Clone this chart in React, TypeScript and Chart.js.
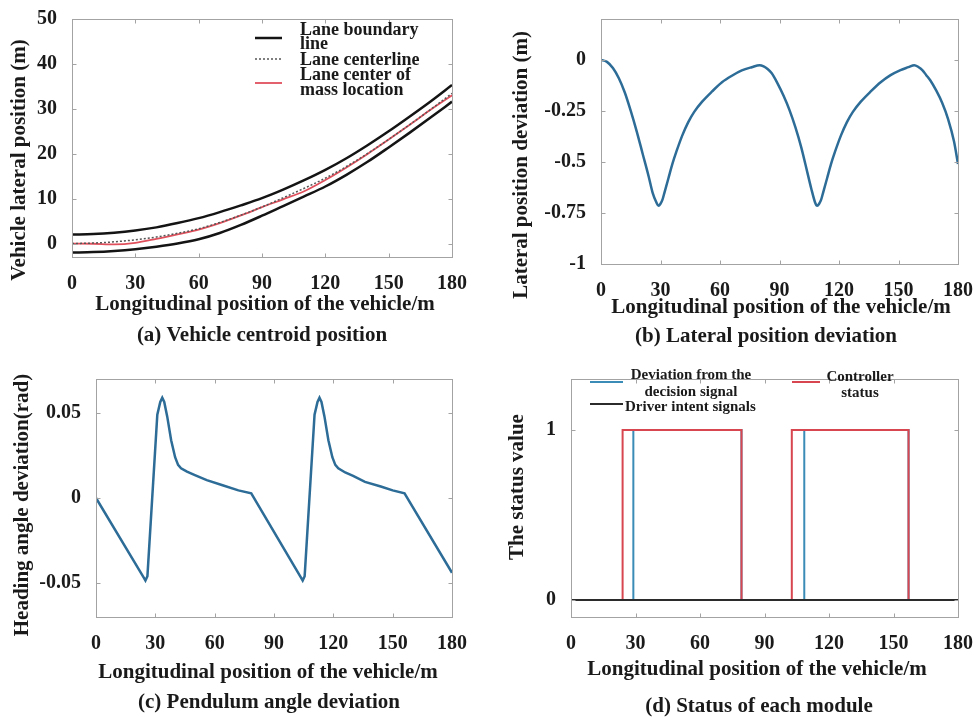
import React, { useEffect, useRef } from "react";
import { Chart, registerables } from "chart.js";
Chart.register(...registerables);

const FONT = '"Liberation Serif", "Times New Roman", Times, serif';
const TEXT = "#1a1a1a";
const AXIS = "#a3a3a3";

// shared x ticks
const xTicks = [0, 30, 60, 90, 120, 150, 180];

// (a) Vehicle centroid position
const aX = [0, 10, 20, 30, 40, 50, 60, 70, 80, 90, 100, 110, 120, 130, 140, 150, 160, 170, 180];
const aUpper = [2.0, 2.1, 2.4, 2.9, 3.6, 4.55, 5.65, 7.0, 8.5, 10.1, 12.0, 14.1, 16.4, 19.0, 21.9, 25.0, 28.3, 31.7, 35.3];
const aLower = [-2.0, -1.9, -1.65, -1.25, -0.7, 0.0, 0.95, 2.35, 4.15, 6.2, 8.35, 10.5, 12.7, 15.3, 18.2, 21.4, 24.7, 28.1, 31.6];
const aCenter = [0, 0.1, 0.38, 0.83, 1.45, 2.28, 3.3, 4.68, 6.33, 8.15, 10.18, 12.3, 14.55, 17.15, 20.05, 23.2, 26.5, 29.9, 33.45];
const aVehicle = [0, -0.05, -0.2, 0.15, 1.05, 2.05, 3.1, 4.55, 6.25, 8.1, 9.85, 11.65, 14.15, 16.95, 19.95, 23.15, 26.45, 29.85, 33.0];
const aYTicks = [0, 10, 20, 30, 40, 50];

// (b) Lateral position deviation
const bX = [0, 3, 6, 9, 12, 15, 18, 21, 24, 26, 28, 29, 30, 31, 32, 34, 36, 38, 41, 44, 47, 51, 56, 61, 66, 71, 76, 80, 82, 84, 86, 89, 92, 95, 98, 101, 104, 106, 108, 109, 110, 111, 112, 114, 116, 118, 121, 124, 127, 131, 136, 141, 146, 151, 155, 158, 160, 162, 164, 166, 169, 172, 175, 178, 180];
const bY = [0, -0.01, -0.04, -0.09, -0.16, -0.25, -0.35, -0.46, -0.57, -0.65, -0.70, -0.715, -0.705, -0.685, -0.65, -0.58, -0.51, -0.45, -0.37, -0.305, -0.255, -0.205, -0.155, -0.11, -0.078, -0.052, -0.036, -0.026, -0.032, -0.045, -0.065, -0.115, -0.175, -0.245, -0.33, -0.43, -0.55, -0.63, -0.70, -0.715, -0.705, -0.685, -0.65, -0.58, -0.51, -0.45, -0.37, -0.305, -0.255, -0.205, -0.155, -0.11, -0.075, -0.05, -0.036, -0.026, -0.035, -0.05, -0.075, -0.1, -0.15, -0.21, -0.29, -0.4, -0.51];
const bYTicks = [-1, -0.75, -0.5, -0.25, 0];

// (c) Pendulum angle deviation
const cX = [0, 24, 25, 26, 31, 32.5, 33.5, 34.5, 36, 38, 40, 41.5, 43, 46, 50, 56, 64, 72, 78.5, 103.5, 104.5, 105.5, 110.5, 112, 113, 114, 115.5, 117.5, 119.5, 121, 122.5, 126, 130, 136, 144, 150, 156, 180];
const cY = [0, -0.0465, -0.0485, -0.046, 0.049, 0.0565, 0.059, 0.0565, 0.048, 0.034, 0.024, 0.0195, 0.0175, 0.0155, 0.0135, 0.0105, 0.0075, 0.0045, 0.0028, -0.0465, -0.0485, -0.046, 0.049, 0.0565, 0.059, 0.0565, 0.048, 0.034, 0.024, 0.0195, 0.0175, 0.015, 0.013, 0.0095, 0.0068, 0.0045, 0.0028, -0.044];
const cYTicks = [-0.05, 0, 0.05];

// (d) Status of each module
const dCtrlX = [0, 24, 24, 79.3, 79.3, 102.7, 102.7, 157, 157, 180];
const dCtrlY = [0, 0, 1, 1, 0, 0, 1, 1, 0, 0];
const dDevX = [0, 29, 29, 79.3, 79.3, 108.5, 108.5, 157, 157, 180];
const dDevY = [0, 0, 1, 1, 0, 0, 1, 1, 0, 0];
const dDrvX = [0, 180];
const dDrvY = [0, 0];
const dYTicks = [0, 1];

function pts(xs: number[], ys: number[]) {
  return xs.map((x, i) => ({ x, y: ys[i] }));
}

type TextItem = { text: string; x: number; y: number; size: number; rotate?: boolean };
type LegendItem = { ds: number; x1: number; x2: number; y: number; tx: number; ty: number; lh: number; align: CanvasTextAlign };
type Spec = {
  left: number; top: number; w: number; h: number;
  area: { l: number; t: number; r: number; b: number };
  yMin: number; yMax: number; yTicks: number[];
  datasets: any[];
  texts: TextItem[];
  legendSize?: number;
  legend?: LegendItem[];
};

const XH = 45;

function makeChart(canvas: HTMLCanvasElement, spec: Spec) {
  const { w, h, area, yMin, yMax, yTicks } = spec;
  const boxPlugin = {
    id: "panelBox",
    afterDatasetsDraw(chart: any) {
      const ctx = chart.ctx as CanvasRenderingContext2D;
      const a = chart.chartArea;
      const l = Math.round(a.left) + 0.5, t = Math.round(a.top) + 0.5;
      const r = Math.round(a.right) + 0.5, b = Math.round(a.bottom) + 0.5;
      ctx.save();
      ctx.strokeStyle = AXIS;
      ctx.lineWidth = 1;
      ctx.strokeRect(l, t, r - l, b - t);
      const tl = 4;
      ctx.beginPath();
      for (const v of xTicks) {
        const px = Math.round(chart.scales.x.getPixelForValue(v)) + 0.5;
        ctx.moveTo(px, t); ctx.lineTo(px, t + tl);
        ctx.moveTo(px, b); ctx.lineTo(px, b - tl);
      }
      for (const v of yTicks) {
        const py = Math.round(chart.scales.y.getPixelForValue(v)) + 0.5;
        ctx.moveTo(l, py); ctx.lineTo(l + tl, py);
        ctx.moveTo(r, py); ctx.lineTo(r - tl, py);
      }
      ctx.stroke();
      ctx.restore();
    },
  };
  const textPlugin = {
    id: "panelText",
    afterDraw(chart: any) {
      const ctx = chart.ctx as CanvasRenderingContext2D;
      ctx.save();
      ctx.fillStyle = TEXT;
      ctx.textBaseline = "middle";
      ctx.textAlign = "center";
      for (const it of spec.texts) {
        ctx.font = `bold ${it.size}px ${FONT}`;
        ctx.save();
        ctx.translate(it.x, it.y);
        if (it.rotate) ctx.rotate(-Math.PI / 2);
        ctx.fillText(it.text, 0, 0);
        ctx.restore();
      }
      ctx.restore();
    },
  };
  const legendPlugin = {
    id: "panelLegend",
    afterDraw(chart: any) {
      if (!spec.legend) return;
      const ctx = chart.ctx as CanvasRenderingContext2D;
      ctx.save();
      for (const it of spec.legend) {
        const ds = chart.data.datasets[it.ds];
        ctx.strokeStyle = ds.borderColor;
        ctx.lineWidth = ds.borderWidth;
        ctx.setLineDash(ds.borderDash || []);
        ctx.beginPath();
        ctx.moveTo(it.x1, it.y);
        ctx.lineTo(it.x2, it.y);
        ctx.stroke();
        ctx.setLineDash([]);
        ctx.fillStyle = TEXT;
        ctx.font = `bold ${spec.legendSize}px ${FONT}`;
        ctx.textBaseline = "middle";
        ctx.textAlign = it.align;
        String(ds.label).split("\n").forEach((line, i) => {
          ctx.fillText(line, it.tx, it.ty + i * it.lh);
        });
      }
      ctx.restore();
    },
  };
  const tickFont = { family: FONT, size: 20, weight: "bold" as const };
  return new Chart(canvas, {
    type: "line",
    data: { datasets: spec.datasets },
    options: {
      animation: false,
      responsive: false,
      maintainAspectRatio: false,
      elements: { point: { radius: 0 } },
      layout: { padding: { left: 0, top: area.t, right: w - area.r, bottom: h - area.b - XH } },
      plugins: { legend: { display: false }, tooltip: { enabled: false }, title: { display: false } },
      scales: {
        x: {
          type: "linear",
          min: 0,
          max: 180,
          grid: { display: false },
          border: { display: false },
          ticks: { autoSkip: false, maxRotation: 0, padding: 7, color: TEXT, font: tickFont, callback: (v: any) => String(v) },
          afterBuildTicks: (s: any) => { s.ticks = xTicks.map((v) => ({ value: v })); },
          afterFit: (s: any) => { s.height = XH; },
        },
        y: {
          type: "linear",
          min: yMin,
          max: yMax,
          grid: { display: false },
          border: { display: false },
          ticks: { autoSkip: false, padding: 7, color: TEXT, font: tickFont, callback: (v: any) => String(v) },
          afterBuildTicks: (s: any) => { s.ticks = yTicks.map((v) => ({ value: v })); },
          afterFit: (s: any) => { s.width = area.l; },
        },
      },
    } as any,
    plugins: [boxPlugin, legendPlugin, textPlugin],
  });
}

const xTitle = "Longitudinal position of the vehicle/m";

const specs: Spec[] = [
  {
    left: 0, top: 0, w: 490, h: 360,
    area: { l: 72, t: 17, r: 452, b: 257 },
    yMin: -3, yMax: 50, yTicks: aYTicks,
    datasets: [
      { label: "Lane boundary\nline", data: pts(aX, aUpper), borderColor: "#141414", borderWidth: 2.5, cubicInterpolationMode: "monotone" },
      { label: "", data: pts(aX, aLower), borderColor: "#141414", borderWidth: 2.5, cubicInterpolationMode: "monotone" },
      { label: "Lane centerline", data: pts(aX, aCenter), borderColor: "#555555", borderWidth: 1.5, borderDash: [2, 2], cubicInterpolationMode: "monotone" },
      { label: "Lane center of\nmass location", data: pts(aX, aVehicle), borderColor: "#e0505c", borderWidth: 1.8, cubicInterpolationMode: "monotone" },
    ],
    texts: [
      { text: "Vehicle lateral position (m)", x: 20, y: 160, size: 21, rotate: true },
      { text: xTitle, x: 265, y: 305, size: 21 },
      { text: "(a) Vehicle centroid position", x: 262, y: 336, size: 21 },
    ],
    legendSize: 18,
    legend: [
      { ds: 0, x1: 255, x2: 282, y: 38, tx: 300, ty: 30, lh: 14, align: "left" },
      { ds: 2, x1: 255, x2: 282, y: 59, tx: 300, ty: 60, lh: 15, align: "left" },
      { ds: 3, x1: 255, x2: 282, y: 83, tx: 300, ty: 75, lh: 15, align: "left" },
    ],
  },
  {
    left: 490, top: 0, w: 490, h: 360,
    area: { l: 111, t: 15, r: 468, b: 264 },
    yMin: -1, yMax: 0.2, yTicks: bYTicks,
    datasets: [
      { label: "Lateral position deviation", data: pts(bX, bY), borderColor: "#2c6c97", borderWidth: 2.5, cubicInterpolationMode: "monotone" },
    ],
    texts: [
      { text: "Lateral position deviation (m)", x: 32, y: 165, size: 21, rotate: true },
      { text: xTitle, x: 291, y: 308, size: 21 },
      { text: "(b) Lateral position deviation", x: 276, y: 337, size: 21 },
    ],
  },
  {
    left: 0, top: 360, w: 490, h: 357,
    area: { l: 96, t: 7, r: 452, b: 257 },
    yMin: -0.07, yMax: 0.07, yTicks: cYTicks,
    datasets: [
      { label: "Heading angle deviation", data: pts(cX, cY), borderColor: "#2c6c97", borderWidth: 2.5, tension: 0 },
    ],
    texts: [
      { text: "Heading angle deviation(rad)", x: 23, y: 145, size: 21, rotate: true },
      { text: xTitle, x: 268, y: 313, size: 21 },
      { text: "(c) Pendulum angle deviation", x: 269, y: 343, size: 21 },
    ],
  },
  {
    left: 490, top: 360, w: 490, h: 357,
    area: { l: 81, t: 7, r: 472, b: 257 },
    yMin: -0.1, yMax: 1.3, yTicks: dYTicks,
    datasets: [
      { label: "Driver intent signals", data: pts(dDrvX, dDrvY), borderColor: "#2b2b2b", borderWidth: 2 },
      { label: "Controller\nstatus", data: pts(dCtrlX, dCtrlY), borderColor: "#d8464f", borderWidth: 2 },
      { label: "Deviation from the\ndecision signal", data: pts(dDevX, dDevY), borderColor: "#3b8cb6", borderWidth: 2 },
    ],
    texts: [
      { text: "The status value", x: 28, y: 127, size: 21, rotate: true },
      { text: xTitle, x: 267, y: 310, size: 21 },
      { text: "(d) Status of each module", x: 269, y: 347, size: 21 },
    ],
    legendSize: 15,
    legend: [
      { ds: 2, x1: 100, x2: 133, y: 22, tx: 201, ty: 15, lh: 17, align: "center" },
      { ds: 0, x1: 100, x2: 133, y: 44, tx: 135, ty: 47, lh: 16, align: "left" },
      { ds: 1, x1: 302, x2: 330, y: 22, tx: 370, ty: 17, lh: 16, align: "center" },
    ],
  },
];

function Panel({ spec }: { spec: Spec }) {
  const ref = useRef<HTMLCanvasElement | null>(null);
  useEffect(() => {
    if (!ref.current) return;
    const chart = makeChart(ref.current, spec);
    return () => chart.destroy();
  }, [spec]);
  return (
    <canvas
      ref={ref}
      width={spec.w}
      height={spec.h}
      style={{ position: "absolute", left: spec.left, top: spec.top, width: spec.w, height: spec.h, display: "block" }}
    />
  );
}

export default function App() {
  return (
    <div style={{ position: "absolute", left: 0, top: 0, width: 980, height: 717, background: "#ffffff", overflow: "hidden" }}>
      {specs.map((s, i) => (
        <Panel key={i} spec={s} />
      ))}
    </div>
  );
}
